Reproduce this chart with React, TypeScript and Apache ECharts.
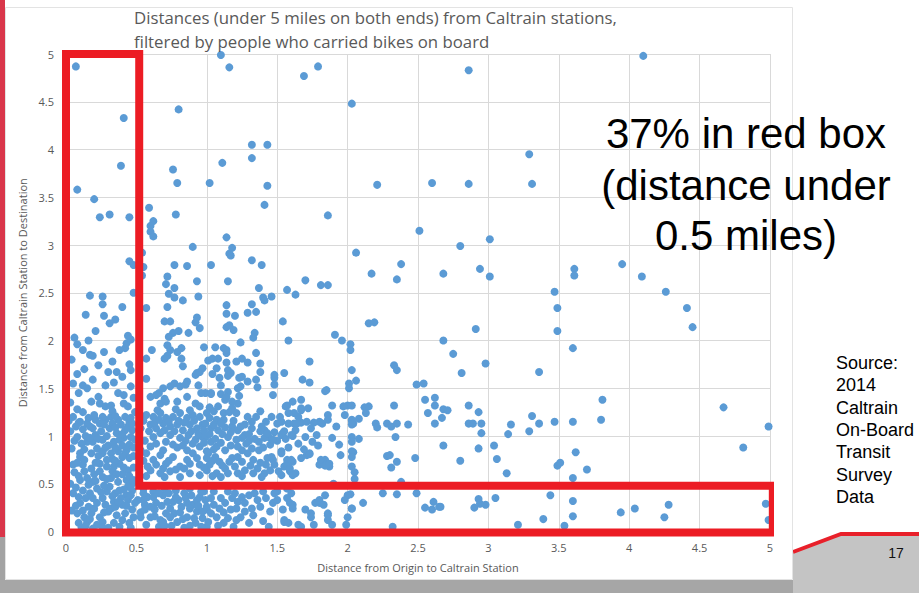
import React, { useEffect, useRef } from "react";
import * as echarts from "echarts";

type Pt = [number, number];

// Sparse points: upper part of the plot and far right
const upperPoints: Pt[] = [
  [0.07,4.87],[0.41,4.33],[0.39,3.83],[0.08,3.58],[0.20,3.48],[0.24,3.29],[0.31,3.32],[0.45,3.29],[0.59,3.39],[0.62,3.25],
  [0.60,3.20],[0.60,3.14],[0.62,3.09],[1.10,4.99],[1.16,4.86],[0.80,4.42],[0.76,3.79],[0.79,3.65],[0.78,3.32],[1.11,3.86],
  [1.02,3.65],[1.32,4.05],[1.43,4.05],[1.32,3.91],[1.43,3.62],[1.41,3.42],[1.69,4.77],[1.79,4.87],[2.03,4.48],[2.21,3.63],
  [2.60,3.65],[1.86,3.31],[1.14,3.08],[1.18,2.97],[1.16,2.91],[1.17,2.89],[0.90,2.98],[0.45,2.83],[0.48,2.79],[0.54,2.92],
  [0.55,2.77],[0.54,2.68],[0.77,2.79],[0.86,2.78],[0.72,2.67],[0.71,2.59],[0.77,2.55],[0.73,2.49],[0.93,2.62],[1.03,2.79],
  [1.15,2.62],[1.32,2.84],[1.39,2.79],[1.37,2.55],[1.57,2.53],[1.63,2.48],[1.70,2.63],[1.81,2.58],[1.86,2.58],[2.06,2.92],
  [2.17,2.70],[2.35,2.64],[2.38,2.80],[2.51,3.15],[2.68,2.70],[2.80,2.99],[0.17,2.47],[0.26,2.46],[0.48,2.50],[0.77,2.45],
  [0.94,2.46],[1.40,2.45],[1.46,2.46],[2.86,4.83],[4.10,4.98],[3.29,3.95],[2.86,3.64],[3.31,3.64],[3.01,3.06],[2.94,2.75],
  [3.01,2.67],[3.47,2.51],[3.61,2.75],[3.61,2.68],[3.95,2.80],[4.09,2.67],[4.26,2.51],
];

const farPoints: Pt[] = [
  [3.49,2.34],[4.41,2.34],[3.49,2.10],[4.45,2.14],[2.91,2.12],[2.68,2.00],[2.75,1.86],[2.98,1.76],[2.81,1.66],[3.36,1.67],
  [3.60,1.92],[3.81,1.38],[3.80,1.17],[4.67,1.30],[4.99,1.10],[4.81,0.88],[2.68,1.28],[2.71,1.27],[2.67,1.19],[2.86,1.32],
  [2.93,1.25],[2.86,1.13],[2.89,1.13],[2.95,1.13],[2.95,1.03],[3.16,1.12],[3.14,1.02],[3.31,1.21],[3.36,1.13],[3.29,1.05],
  [3.47,1.15],[3.60,1.15],[2.68,0.90],[2.93,0.87],[3.04,0.90],[3.06,0.76],[2.80,0.74],[3.13,0.61],[3.62,0.83],[3.49,0.69],
  [3.51,0.72],[3.70,0.65],[3.60,0.56],[2.66,0.26],[2.90,0.25],[2.94,0.29],[2.93,0.34],[2.98,0.28],[3.05,0.35],[3.44,0.38],
  [3.60,0.32],[3.60,0.16],[3.39,0.13],[3.21,0.07],[3.54,0.06],[3.94,0.20],[4.04,0.24],[4.28,0.28],[4.25,0.15],[4.97,0.29],
  [4.99,0.12],
  [2.15,2.18],[2.19,2.19],[2.33,1.74],[2.35,1.69],[2.03,1.69],[2.06,1.58],[2.02,1.96],[2.02,1.90],[2.01,1.55],[2.49,1.54],
  [2.54,1.55],[2.55,1.38],[2.62,1.40],[2.62,1.32],[2.57,1.24],[2.62,1.13],[2.33,1.32],[2.12,1.30],[2.15,1.31],[2.13,1.24],
  [2.08,1.18],[2.04,1.13],[2.03,1.16],[2.20,1.13],[2.21,1.09],[2.28,1.13],[2.31,1.10],[2.35,1.13],[2.43,1.12],[2.03,0.99],
  [2.08,0.97],[2.34,0.99],[2.04,0.83],[2.28,0.79],[2.30,0.80],[2.35,0.73],[2.31,0.67],[2.48,0.77],[2.03,0.68],[2.05,0.62],
  [2.05,0.55],[2.38,0.52],[2.25,0.40],[2.35,0.39],[2.49,0.40],[2.11,0.30],[2.03,0.24],[2.02,0.39],[2.55,0.25],[2.60,0.23],
  [2.61,0.31],[2.65,0.26],[2.32,0.05],
];

// Middle band x 1.5 - 2
const midPoints: Pt[] = [
  [1.50,1.13],[1.53,1.15],[1.58,1.13],[1.62,1.13],[1.67,1.14],[1.71,1.15],[1.57,1.32],[1.61,1.36],[1.67,1.38],[1.67,1.27],
  [1.62,1.24],[1.80,1.15],[1.82,1.13],[1.84,1.47],[1.89,1.32],[1.86,1.22],[2.00,1.32],[2.03,1.32],[1.98,1.22],[2.03,1.17],
  [2.03,1.12],[2.01,1.50],[1.70,0.99],[1.75,0.94],[1.89,0.98],[1.94,0.91],[2.03,0.94],[2.03,0.84],[1.61,1.00],[1.54,1.03],
  [1.53,0.84],[1.55,1.66],[1.68,1.59],[1.73,1.56],[1.48,1.61],[1.48,1.54],[1.54,2.20],[1.58,2.00],[1.91,2.06],[1.96,2.00],
  [1.73,1.78],[1.48,1.64],[1.85,1.48],[1.56,1.31],[1.67,1.29],[1.72,1.29],[1.97,1.31],[1.64,1.13],[1.76,1.14],[1.86,1.17],
  [1.53,1.01],[1.55,1.05],[1.60,1.01],[1.71,0.80],[1.73,0.82],[1.84,0.75],[1.84,0.70],[1.80,0.70],[1.87,0.68],[1.53,0.82],
  [1.57,0.75],[1.61,0.73],[1.55,0.68],[1.59,0.63],[1.63,0.61],[1.53,0.59],[1.47,0.75],[1.42,0.70],
  [1.50,0.42],[1.57,0.45],[1.57,0.35],[1.60,0.40],[1.61,0.28],[1.54,0.23],[1.55,0.10],[1.65,0.07],[1.74,0.19],[1.76,0.07],
  [1.80,0.30],[1.84,0.38],[1.86,0.19],[1.86,0.12],[1.90,0.50],[2.00,0.38],[1.99,0.07],
  [1.52,1.20],[1.58,1.24],[1.65,1.20],[1.74,1.08],[1.78,1.01],[1.65,0.92],[1.58,0.88],[1.69,0.86],[1.79,0.90],[1.92,1.10],
  [1.95,0.80],[1.50,0.95],[1.56,0.97],[1.63,1.06],
];

// Core x 0.5 - 1.5
const corePoints: Pt[] = [
  [0.57,2.34],[0.72,2.35],[0.83,2.42],[0.70,2.20],[0.74,2.20],[0.92,2.19],[0.93,2.24],[0.95,2.13],[0.76,2.08],[0.80,2.10],
  [0.87,2.08],[0.73,2.04],[0.72,1.95],[0.74,1.90],[0.79,1.88],[0.82,1.92],[0.61,1.90],[0.57,1.81],[0.70,1.81],[0.72,1.84],
  [0.82,1.81],[0.83,1.73],[0.98,1.93],[1.01,1.79],[0.97,1.71],[0.93,1.66],
  [1.41,2.42],[1.14,2.37],[1.14,2.28],[1.20,2.26],[1.32,2.38],[1.29,2.29],[1.35,2.30],[1.14,2.14],[1.16,2.16],[1.19,2.11],
  [1.34,2.08],[1.33,2.03],[1.24,1.98],[1.06,1.93],[1.12,1.92],[1.14,1.87],[1.14,1.90],[1.35,1.87],[1.04,1.81],[1.08,1.81],
  [1.14,1.77],[1.21,1.78],[1.25,1.81],[1.29,1.77],[1.38,1.76],[1.38,1.67],[1.07,1.71],[1.15,1.69],[1.17,1.66],
  [1.04,1.65],[1.09,1.61],[1.15,1.63],[1.23,1.61],[1.29,1.57],[1.35,1.59],[1.36,1.51],[0.99,1.45],[1.03,1.44],[1.10,1.53],
  [1.10,1.44],[1.15,1.46],[1.22,1.50],[1.23,1.42],[1.13,1.38],[1.18,1.36],[1.22,1.34],[1.47,1.43],[1.02,1.30],[1.08,1.31],
  [0.60,1.41],[0.66,1.45],[0.69,1.50],[0.74,1.52],[0.77,1.55],[0.81,1.52],[0.86,1.57],[0.92,1.64],[0.95,1.67],[0.96,1.45],
  [0.67,1.34],[0.71,1.36],[0.79,1.36],[0.86,1.41],[0.92,1.34],[0.95,1.31],[0.57,1.60],[0.64,1.43],[0.70,1.39],[0.85,1.54],
  [0.94,1.53],[1.03,1.45],[1.24,1.52],[1.25,1.62],[1.14,1.41],
  [0.57,1.22],[0.62,1.20],[0.67,1.24],[0.71,1.19],[0.76,1.20],[0.81,1.24],[0.86,1.19],[0.90,1.22],[0.95,1.20],[1.00,1.24],
  [0.60,1.12],[0.64,1.08],[0.69,1.13],[0.74,1.10],[0.79,1.12],[0.83,1.06],[0.88,1.12],[0.93,1.08],[0.97,1.12],
  [0.62,0.99],[0.67,1.03],[0.74,1.01],[0.81,0.98],[0.87,1.01],[0.92,0.96],[0.97,0.99],
  [0.60,0.89],[0.69,0.85],[0.76,0.91],[0.86,0.85],[0.95,0.89],[1.00,0.84],
  [1.12,1.24],[1.16,1.25],[1.02,1.19],[1.07,1.17],[1.12,1.17],[1.21,1.24],[0.99,1.13],[1.03,1.08],[1.08,1.06],[1.13,1.09],
  [1.18,1.10],[1.22,1.06],[1.27,1.12],[1.32,1.15],[1.32,1.08],[1.38,1.05],[1.41,1.06],[1.44,0.99],[0.99,0.99],[1.03,0.94],
  [1.07,0.89],[1.15,0.99],[1.21,0.96],[1.27,1.01],[1.28,0.92],[1.32,0.87],[1.37,0.94],[1.37,0.85],[1.41,0.98],[1.45,0.91],
  [1.13,0.85],[1.22,0.89],[1.42,1.15],[1.29,1.20],[1.46,1.20],
  [0.55,1.16],[0.59,1.05],[0.63,1.14],[0.66,1.17],[0.70,1.06],[0.73,1.15],[0.77,1.05],[0.80,1.16],[0.84,1.14],[0.85,0.95],
  [0.89,1.05],[0.91,1.16],[0.94,1.02],[0.98,1.06],[1.02,1.02],[1.05,1.12],[1.06,0.97],[1.10,1.13],[1.11,1.02],[1.17,1.04],
  [1.19,1.16],[1.24,1.10],[1.25,0.98],[1.30,1.02],[1.34,0.97],[1.35,1.20],[1.39,1.10],[1.43,1.03],[1.48,1.04],[0.56,0.95],
  [0.64,0.92],[0.71,0.94],[0.79,0.88],[0.83,0.90],[0.90,0.92],[0.98,0.93],[1.05,0.86],[1.10,0.93],[1.17,0.90],[1.25,0.85],
  [1.30,0.95],[1.40,0.88],[1.47,0.96],[0.65,1.27],[0.78,1.28],[0.88,1.27],[1.05,1.26],[1.18,1.29],[1.38,1.26],[0.53,1.08],
  [0.53,0.85],
  [1.01,0.82],[1.06,0.78],[1.09,0.73],[1.13,0.66],[1.18,0.77],[1.22,0.78],[1.22,0.61],[1.29,0.82],[1.33,0.75],[1.36,0.66],
  [1.41,0.61],[1.46,0.78],[1.48,0.70],[1.51,0.63],[1.57,0.71],[1.59,0.66],[1.61,0.59],[1.60,0.75],[1.67,0.77],[1.73,0.81],
  [1.81,0.75],[1.84,0.69],[1.87,0.71],[2.03,0.78],[1.02,0.70],[1.07,0.61],[1.15,0.61],[1.27,0.64],
  [0.57,0.82],[0.62,0.75],[0.67,0.80],[0.71,0.71],[0.76,0.78],[0.81,0.68],[0.86,0.75],[0.90,0.82],[0.95,0.70],[1.00,0.77],
  [0.60,0.64],[0.67,0.61],[0.74,0.63],[0.81,0.57],[0.88,0.61],[0.95,0.59],[1.00,0.64],
  [0.55,0.74],[0.58,0.68],[0.64,0.70],[0.69,0.66],[0.73,0.74],[0.78,0.65],[0.84,0.66],[0.88,0.71],[0.93,0.77],[0.98,0.67],
  [1.04,0.74],[1.11,0.69],[1.16,0.73],[1.20,0.68],[1.25,0.73],[1.31,0.69],[1.38,0.72],[1.43,0.77],[1.25,0.58],[1.33,0.61],
  [1.39,0.57],[1.45,0.64],[1.10,0.57],[0.70,0.57],[0.57,0.58],[1.04,0.58],
  [0.58,0.36],[0.64,0.30],[0.69,0.38],[0.74,0.24],[0.80,0.33],[0.84,0.40],[0.90,0.28],[0.95,0.36],[1.00,0.23],[0.60,0.15],
  [0.67,0.12],[0.71,0.19],[0.79,0.10],[0.86,0.15],[0.92,0.09],[0.97,0.14],[0.63,0.23],[0.77,0.19],[0.93,0.21],
  [0.55,0.45],[0.62,0.42],[0.70,0.45],[0.78,0.43],[0.88,0.45],[0.98,0.42],[0.56,0.28],[0.72,0.31],[0.86,0.30],[0.93,0.33],
  [0.57,0.07],[0.66,0.05],[0.75,0.06],[0.84,0.04],[1.00,0.05],[0.53,0.20],[0.82,0.26],[0.99,0.33],
  [0.55,0.33],[0.60,0.26],[0.62,0.36],[0.66,0.40],[0.68,0.27],[0.70,0.06],[0.73,0.40],[0.76,0.31],[0.78,0.36],[0.81,0.20],
  [0.83,0.13],[0.85,0.35],[0.88,0.24],[0.89,0.38],[0.91,0.14],[0.94,0.27],[0.96,0.42],[0.97,0.21],[1.03,0.35],[1.05,0.28],
  [1.05,0.42],[1.08,0.06],[1.10,0.35],[1.12,0.20],[1.17,0.23],[1.19,0.05],[1.20,0.40],[1.24,0.15],[1.27,0.30],[1.30,0.38],
  [1.30,0.09],[1.33,0.17],[1.38,0.26],[1.40,0.11],[1.42,0.35],[1.44,0.05],[0.63,0.16],[0.74,0.15],[0.69,0.10],[0.88,0.06],
  [0.96,0.05],
  [1.00,0.26],[1.03,0.19],[1.01,0.10],[1.07,0.15],[1.09,0.24],[1.13,0.30],[1.15,0.42],[1.18,0.35],[1.21,0.24],[1.22,0.31],
  [1.25,0.36],[1.15,0.14],[1.12,0.09],[1.21,0.12],[1.27,0.21],[1.32,0.24],[1.36,0.33],[1.34,0.40],[1.40,0.42],[1.45,0.21],
  [1.47,0.30],[1.50,0.33],[1.48,0.40],[1.55,0.12],[1.59,0.30],[1.61,0.24],[1.67,0.05],[1.70,0.23],[1.74,0.15],[1.77,0.30],
  [1.80,0.33],[1.83,0.28],[1.86,0.17],[1.89,0.07],[1.98,0.33],[2.00,0.15],[2.03,0.24],[1.58,0.09],
];

// Inside the red column x < 0.5
const boxColumnPoints: Pt[] = [
  [0.26,2.38],[0.40,2.35],[0.27,2.26],[0.31,2.18],[0.08,1.96],[0.16,2.00],[0.12,1.90],[0.17,1.85],[0.19,1.84],[0.27,1.88],
  [0.44,2.05],[0.42,1.92],[0.43,1.97],[0.46,2.01],[0.23,1.74],[0.08,1.65],[0.30,1.67],[0.36,1.67],[0.45,1.75],[0.46,1.69],
  [0.19,1.59],[0.12,1.53],[0.15,1.50],[0.09,1.45],[0.28,1.53],[0.34,1.56],[0.46,1.52],[0.37,1.45],[0.41,1.43],[0.24,1.34],
  [0.28,1.31],[0.32,1.32],[0.41,1.34],[0.44,1.31],[0.23,1.41],
  [0.06,2.03],[0.21,2.10],[0.35,2.22],[0.14,2.27],[0.04,1.80],[0.33,1.78],[0.38,1.90],[0.13,1.70],[0.40,1.62],[0.05,1.55],
  [0.48,1.40],[0.03,1.35],[0.18,1.36],
  [0.05,1.20],[0.10,1.15],[0.15,1.13],[0.21,1.17],[0.24,1.13],[0.28,1.17],[0.32,1.20],[0.37,1.17],[0.42,1.20],[0.45,1.15],
  [0.19,1.08],[0.25,1.05],[0.31,1.08],[0.36,1.03],[0.42,1.06],[0.47,1.06],[0.15,0.94],[0.19,0.94],[0.26,0.96],[0.34,0.94],
  [0.41,0.98],[0.45,0.91],[0.10,0.82],[0.26,0.84],[0.37,0.84],[0.09,1.14],[0.17,1.10],[0.14,1.00],[0.06,0.95],[0.30,0.90],
  [0.39,1.12],[0.49,1.25],[0.12,1.25],[0.33,1.26],[0.22,0.87],
  [0.03,1.05],[0.07,1.10],[0.12,1.07],[0.08,0.99],[0.11,0.92],[0.17,0.98],[0.21,1.01],[0.23,0.97],[0.27,1.12],[0.29,1.00],
  [0.33,1.13],[0.35,1.09],[0.38,0.96],[0.40,1.02],[0.44,1.10],[0.47,1.13],[0.46,0.99],[0.04,0.87],[0.13,0.86],[0.18,0.82],
  [0.28,0.88],[0.32,0.82],[0.35,0.88],[0.40,0.90],[0.43,0.85],[0.20,1.22],[0.26,1.20],[0.35,1.21],[0.46,1.19],[0.16,1.19],
  [0.08,1.28],[0.02,1.16],
];

// Inside the red row y < 0.5 and lower left corner
const boxRowPoints: Pt[] = [
  [0.10,0.78],[0.13,0.75],[0.12,0.70],[0.26,0.82],[0.24,0.71],[0.29,0.68],[0.18,0.66],[0.38,0.71],[0.42,0.82],[0.44,0.64],
  [0.45,0.77],[0.10,0.54],[0.15,0.56],[0.19,0.52],[0.26,0.57],[0.32,0.56],[0.37,0.52],[0.43,0.54],[0.47,0.50],[0.12,0.43],
  [0.17,0.40],[0.22,0.45],[0.29,0.42],[0.35,0.40],[0.38,0.43],[0.43,0.38],[0.47,0.43],[0.10,0.30],[0.16,0.26],[0.22,0.30],
  [0.28,0.28],[0.34,0.31],[0.40,0.28],[0.44,0.33],[0.08,0.19],[0.13,0.15],[0.18,0.19],[0.24,0.15],[0.30,0.21],[0.36,0.17],
  [0.42,0.19],[0.47,0.23],[0.09,0.09],[0.15,0.10],[0.22,0.07],[0.26,0.10],[0.34,0.09],[0.40,0.12],[0.45,0.09],[0.51,0.33],
  [0.55,0.40],[0.53,0.15],[0.56,0.23],
  [0.06,0.62],[0.20,0.60],[0.33,0.63],[0.40,0.60],[0.48,0.67],[0.05,0.40],[0.31,0.47],[0.14,0.35],[0.26,0.35],[0.39,0.35],
  [0.49,0.30],[0.07,0.27],[0.20,0.24],[0.32,0.24],[0.48,0.15],[0.11,0.04],[0.30,0.04],[0.38,0.05],[0.19,0.03],[0.05,0.70],
  [0.44,0.47],[0.23,0.79],[0.33,0.76],[0.48,0.79],[0.48,0.88],[0.49,0.96],
  [0.03,0.50],[0.07,0.46],[0.09,0.58],[0.13,0.63],[0.16,0.49],[0.21,0.53],[0.24,0.63],[0.27,0.48],[0.29,0.55],[0.34,0.68],
  [0.36,0.60],[0.41,0.67],[0.45,0.58],[0.48,0.54],[0.46,0.38],[0.41,0.44],[0.33,0.37],[0.25,0.41],[0.19,0.35],[0.09,0.36],
  [0.04,0.22],[0.12,0.22],[0.17,0.13],[0.27,0.20],[0.35,0.26],[0.43,0.27],[0.46,0.04],[0.26,0.04],[0.14,0.06],[0.37,0.31],
  [0.21,0.72],[0.29,0.75],[0.35,0.74],[0.40,0.78],[0.08,0.72],
];

// Red L-shaped box outline (data units)
const boxX = [0, 0, 0.52, 0.52, 5.02, 5.02, 0, 0];
const boxY = [2.5, 5, 5, 0.48, 0.48, -0.01, -0.01, 2.5];

const titleLines = [
  "Distances (under 5 miles on both ends) from Caltrain stations,",
  "filtered by people who carried bikes on board",
];
const calloutLines = ["37% in red box", "(distance under", "0.5 miles)"];
const sourceLines = ["Source:", "2014", "Caltrain", "On-Board", "Transit", "Survey", "Data"];
const slideNumber = "17";

const FONT = "'Open Sans', 'Liberation Sans', sans-serif";
const ARIAL = "'Liberation Sans', Arial, sans-serif";

export default function App() {
  const ref = useRef<HTMLDivElement>(null);

  useEffect(() => {
    if (!ref.current) return;
    const chart = echarts.init(ref.current, null, { renderer: "svg" });
    const allPoints = [
      ...upperPoints,
      ...farPoints,
      ...midPoints,
      ...corePoints,
      ...boxColumnPoints,
      ...boxRowPoints,
    ];
    const boxData = boxX.map((x, i) => [x, boxY[i]]);

    const option: any = {
      animation: false,
      backgroundColor: "#ffffff",
      grid: { left: 66, right: 149, top: 54, bottom: 61.5, containLabel: false },
      title: {
        text: titleLines.join("\n"),
        left: 134,
        top: 6,
        padding: 0,
        textStyle: {
          color: "#595959",
          fontSize: 16.8,
          fontWeight: "normal",
          fontFamily: FONT,
          lineHeight: 23.5,
        },
      },
      xAxis: {
        type: "value",
        min: 0,
        max: 5,
        interval: 0.5,
        name: "Distance from Origin to Caltrain Station",
        nameLocation: "middle",
        nameGap: 30,
        nameTextStyle: { color: "#595959", fontSize: 11, fontFamily: FONT },
        axisLine: { show: true, lineStyle: { color: "#d9d9d9" } },
        axisTick: { show: false },
        axisLabel: { color: "#595959", fontSize: 11, margin: 10, fontFamily: FONT },
        splitLine: { show: true, lineStyle: { color: "#d9d9d9", width: 1 } },
      },
      yAxis: {
        type: "value",
        min: 0,
        max: 5,
        interval: 0.5,
        name: "Distance from Caltrain Station to Destination",
        nameLocation: "middle",
        nameGap: 34,
        nameTextStyle: { color: "#595959", fontSize: 11, fontFamily: FONT },
        axisLine: { show: true, lineStyle: { color: "#d9d9d9" } },
        axisTick: { show: false },
        axisLabel: { color: "#595959", fontSize: 11, margin: 12, fontFamily: FONT },
        splitLine: { show: true, lineStyle: { color: "#d9d9d9", width: 1 } },
      },
      series: [
        {
          type: "scatter",
          data: allPoints,
          symbol: "circle",
          symbolSize: 8,
          itemStyle: { color: "#5B9BD5", opacity: 1 },
          z: 3,
        },
        {
          type: "line",
          data: boxData,
          symbol: "none",
          clip: false,
          lineStyle: { color: "#ec1c24", width: 8, join: "miter", cap: "square" },
          z: 5,
        },
      ],
      graphic: [
        { type: "rect", z: -20, silent: true, shape: { x: 0, y: 0, width: 5, height: 537 }, style: { fill: "#d9364a" } },
        { type: "rect", z: -20, silent: true, shape: { x: 0, y: 537, width: 5, height: 56 }, style: { fill: "#a3a3a3" } },
        { type: "rect", z: -20, silent: true, shape: { x: 0, y: 580, width: 793, height: 13 }, style: { fill: "#a6a6a6" } },
        {
          type: "polygon", z: -20, silent: true,
          shape: { points: [[793, 553], [841, 534], [919, 534], [919, 593], [793, 593]] },
          style: { fill: "#c4c4c4" },
        },
        {
          type: "polyline", z: -19, silent: true,
          shape: { points: [[793, 552], [841, 534], [919, 534]] },
          style: { stroke: "#e8202a", lineWidth: 4, fill: "none" },
        },
        {
          type: "rect", z: -10, silent: true,
          shape: { x: 5.5, y: 7.5, width: 787, height: 572 },
          style: { fill: "#ffffff", stroke: "#e3e3e3", lineWidth: 1 },
        },
        {
          type: "text", z: 50, silent: true, x: 896, y: 553,
          style: { text: slideNumber, fill: "#111", fontSize: 14, fontFamily: ARIAL, textAlign: "center", textVerticalAlign: "middle" },
        },
        ...calloutLines.map((t, i) => ({
          type: "text", z: 50, silent: true, x: 746, y: [133, 185, 235][i],
          style: { text: t, fill: "#000", fontSize: 42, fontFamily: ARIAL, textAlign: "center", textVerticalAlign: "middle" },
        })),
        {
          type: "text", z: 50, silent: true, x: 836, y: 351.5,
          style: {
            text: sourceLines.join("\n"), fill: "#000", fontSize: 18, lineHeight: 22.4,
            fontFamily: ARIAL, textAlign: "left", textVerticalAlign: "top",
          },
        },
      ],
    };
    chart.setOption(option);
    return () => chart.dispose();
  }, []);

  return (
    <div
      ref={ref}
      style={{ position: "fixed", left: 0, top: 0, width: 919, height: 593 }}
    />
  );
}
